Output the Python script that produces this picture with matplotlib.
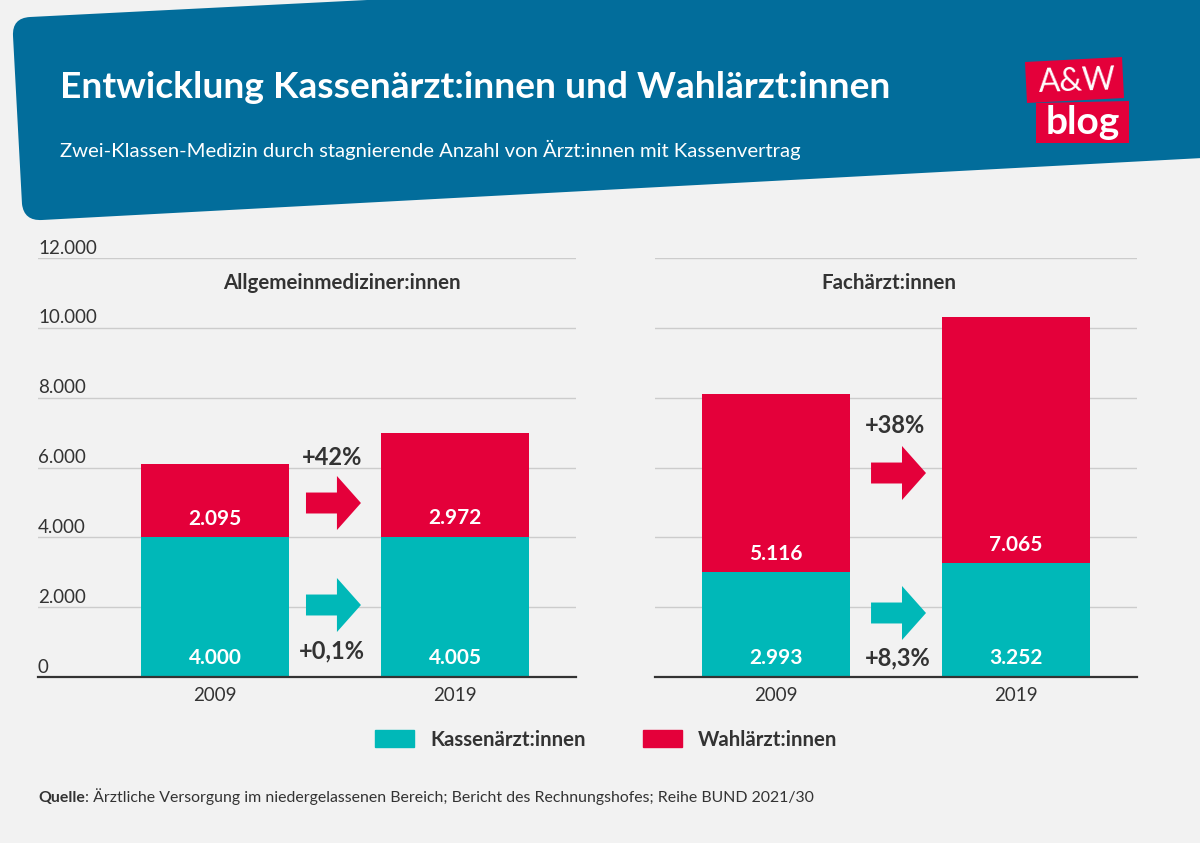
import matplotlib
matplotlib.use('Agg')
import matplotlib.pyplot as plt
from matplotlib.patches import PathPatch, Polygon
from matplotlib.path import Path

# Data
years = ['2009', '2019']
panel_titles = ['Allgemeinmediziner:innen', 'Fachärzt:innen']
kassen_allgemein = [4000, 4005]
wahl_allgemein = [2095, 2972]
kassen_fach = [2993, 3252]
wahl_fach = [5116, 7065]
y_ticks = [0, 2000, 4000, 6000, 8000, 10000, 12000]
y_tick_labels = ['0', '2.000', '4.000', '6.000', '8.000', '10.000', '12.000']
pct_allgemein = ['+42%', '+0,1%']
pct_fach = ['+38%', '+8,3%']

BG = '#f2f2f2'
BLUE = '#026d9b'
RED = '#e4003a'
TEAL = '#00b8b8'
DARK = '#333333'
GRID = '#cccccc'
BODY_FONT = 'Lato'

W, H = 1200, 843


def fmt(v):
    return f'{v:,}'.replace(',', '.')


def draw_panel(ax, kassen, wahl, title, title_x, xlim):
    x = range(len(years))
    ax.bar(x, kassen, width=148 / 240, color=TEAL, zorder=3)
    ax.bar(x, wahl, width=148 / 240, bottom=kassen, color=RED, zorder=3)
    for i in x:
        for val, bottom in ((kassen[i], 0), (wahl[i], kassen[i])):
            ax.annotate(fmt(val), (i, bottom), xytext=(0, 13.5), textcoords='offset points',
                        ha='center', va='center', color='white', fontsize=15,
                        fontweight='bold', family=BODY_FONT, zorder=4)
    ax.set_xlim(*xlim)
    ax.set_ylim(0, 12000)
    ax.set_xticks(list(x), years)
    ax.set_yticks(y_ticks)
    ax.tick_params(axis='y', length=0, labelleft=False)
    ax.tick_params(axis='x', length=0, pad=7.5, labelsize=13.5, colors=DARK)
    for lab in ax.get_xticklabels():
        lab.set_family(BODY_FONT)
    ax.grid(axis='y', color=GRID, lw=1, zorder=1)
    ax.set_axisbelow(True)
    ax.patch.set_visible(False)
    for side in ('top', 'left', 'right'):
        ax.spines[side].set_visible(False)
    ax.spines['bottom'].set_color(DARK)
    ax.spines['bottom'].set_linewidth(1.6)
    ax.spines['bottom'].set_zorder(5)
    ax.text(title_x, 11285, title, ha='center', va='center', fontsize=14.8,
            fontweight='bold', color=DARK, family=BODY_FONT)


def draw_arrow(ax, x, y, color):
    ax.arrow(x, y, 0.229, 0, width=600, head_width=1547, head_length=0.1,
             length_includes_head=True, color=color, lw=0, zorder=3)


fig = plt.figure(figsize=(W / 100, H / 100), dpi=100, facecolor=BG)

# Overlay in pixel coordinates for the banner, logo and source line
bg = fig.add_axes([0, 0, 1, 1])
bg.set_xlim(0, W)
bg.set_ylim(H, 0)
bg.axis('off')

verts = [(30, 17), (1240, -44), (1240, 156), (42, 220), (24, 221), (22, 204),
         (13, 36), (12, 18), (30, 17)]
codes = [Path.MOVETO, Path.LINETO, Path.LINETO, Path.LINETO, Path.CURVE3, Path.CURVE3,
         Path.LINETO, Path.CURVE3, Path.CURVE3]
bg.add_patch(PathPatch(Path(verts, codes), fc=BLUE, ec='none'))

bg.text(60, 87, 'Entwicklung Kassenärzt:innen und Wahlärzt:innen', color='white',
        fontsize=26.7, fontweight='bold', family=BODY_FONT, va='center')
bg.text(60, 150, 'Zwei-Klassen-Medizin durch stagnierende Anzahl von Ärzt:innen mit Kassenvertrag',
        color='white', fontsize=14.6, family=BODY_FONT, va='center')

# Logo
bg.add_patch(Polygon([(1025, 62), (1122, 57), (1124, 98), (1027, 103)], fc=RED, ec='none'))
bg.add_patch(Polygon([(1036, 103), (1129, 101), (1129, 143), (1036, 143)], fc=RED, ec='none'))
bg.text(1077, 82, 'A&W', color='white', fontsize=23, family=BODY_FONT,
        ha='center', va='center', rotation=2)
bg.text(1083, 122, 'blog', color='white', fontsize=28, family=BODY_FONT, fontweight='bold',
        ha='center', va='center')

# Charts
top, bottom = 1 - 258 / H, 1 - 677 / H
ax1 = fig.add_axes([38 / W, bottom, (576 - 38) / W, top - bottom])
ax2 = fig.add_axes([655 / W, bottom, (1137 - 655) / W, top - bottom])
draw_panel(ax1, kassen_allgemein, wahl_allgemein, panel_titles[0], 0.53, (-0.7375, 1.504))
draw_panel(ax2, kassen_fach, wahl_fach, panel_titles[1], 0.47, (-0.504, 1.504))

for tick, label in zip(y_ticks, y_tick_labels):
    ax1.annotate(label, (0, tick), xycoords=ax1.get_yaxis_transform(), xytext=(0, 1),
                 textcoords='offset points', ha='left', va='bottom', fontsize=13.5,
                 color=DARK, family=BODY_FONT)

draw_arrow(ax1, 0.379, 4983, RED)
draw_arrow(ax1, 0.379, 2062, TEAL)
draw_arrow(ax2, 0.396, 5842, RED)
draw_arrow(ax2, 0.396, 1833, TEAL)

pct_style = dict(ha='center', va='center', fontsize=17, fontweight='bold', color=DARK,
                 family=BODY_FONT)
ax1.text(0.488, 6300, pct_allgemein[0], **pct_style)
ax1.text(0.488, 750, pct_allgemein[1], **pct_style)
ax2.text(0.496, 7210, pct_fach[0], **pct_style)
ax2.text(0.508, 540, pct_fach[1], **pct_style)

# Legend
handles = [plt.Rectangle((0, 0), 1, 1, color=TEAL, label='Kassenärzt:innen'),
           plt.Rectangle((0, 0), 1, 1, color=RED, label='Wahlärzt:innen')]
fig.legend(handles=handles, ncols=2, frameon=False, loc='center left',
           bbox_to_anchor=(357 / W, 1 - 740 / H), handlelength=1.9, handleheight=0.9,
           handletextpad=0.8, columnspacing=2.8,
           prop={'family': BODY_FONT, 'weight': 'bold', 'size': 14.7}, labelcolor=DARK)

# Source line
src = bg.text(38, 798, 'Quelle', fontsize=11.4, fontweight='bold', color=DARK,
              family=BODY_FONT, va='center')
bg.annotate(': Ärztliche Versorgung im niedergelassenen Bereich; Bericht des Rechnungshofes; Reihe BUND 2021/30',
            xy=(1, 0), xycoords=src, va='bottom', fontsize=11.4, color=DARK, family=BODY_FONT)

fig.savefig('out.png', dpi=100, facecolor=BG)
